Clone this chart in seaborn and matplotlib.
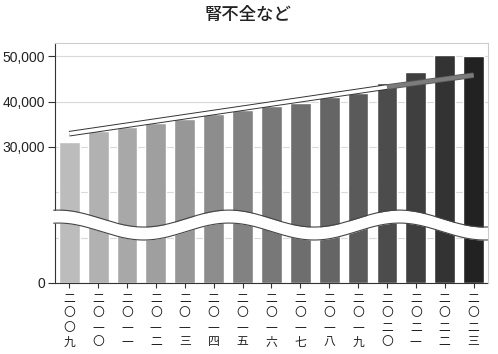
import numpy as np
import pandas as pd
import matplotlib
matplotlib.use("Agg")
import matplotlib.pyplot as plt
import seaborn as sns

# data
years = ['二〇〇九', '二〇一〇', '二〇一一', '二〇一二', '二〇一三', '二〇一四', '二〇一五',
         '二〇一六', '二〇一七', '二〇一八', '二〇一九', '二〇二〇', '二〇二一', '二〇二二', '二〇二三']
values = [31100, 33500, 34300, 35300, 36050, 37200, 38100, 39000,
          39700, 41000, 41900, 44000, 46500, 50200, 50100]
bar_colors = ['#bcbcbc', '#b1b1b1', '#a8a8a8', '#9f9f9f', '#979797', '#8d8d8d', '#828282',
              '#787878', '#6e6e6e', '#656565', '#5a5a5a', '#4c4c4c', '#3f3f3f', '#333333', '#222222']
trend_x = [0, 11, 14]
trend_y = [32900, 43200, 45800]
grid_values = [0, 10000, 20000, 30000, 40000, 50000]
ytick_values = [0, 30000, 40000, 50000]
ytick_labels = ['0', '30,000', '40,000', '50,000']
title = '腎不全など'

CJK = 'Noto Sans CJK JP'


def main():
    sns.set_style('white')
    plt.rcParams['font.family'] = ['Liberation Sans', CJK, 'DejaVu Sans']

    fig = plt.figure(figsize=(4.98, 3.54), dpi=100)
    ax = fig.add_axes([0.110, 0.2006, 0.870, 0.678])

    df = pd.DataFrame({'year': years, 'value': values})
    sns.barplot(df, x='year', y='value', hue='year', palette=bar_colors, legend=False,
                width=0.72, saturation=1, ax=ax, zorder=2)

    for v in grid_values:
        ax.axhline(v, color='#d9d9d9', lw=0.8, zorder=0)

    # trend line: outlined white part, then grey part
    ax.plot(trend_x[:2], trend_y[:2], color='#333333', lw=4.0, solid_capstyle='butt', zorder=4)
    ax.plot(trend_x[:2], trend_y[:2], color='white', lw=2.6, solid_capstyle='butt', zorder=5)
    ax.plot(trend_x[1:], trend_y[1:], color='#5a5a5a', lw=4.0, solid_capstyle='butt', zorder=4)
    ax.plot(trend_x[1:], trend_y[1:], color='#7c7c7c', lw=2.8, solid_capstyle='butt', zorder=5)

    # wavy axis-break band
    xs = np.linspace(-0.54, 14.5, 500)
    upper = 14200 + 1870 * np.cos(2 * np.pi * (xs - 11.43) / 5.9)
    lower = upper - 2860
    ax.fill_between(xs, lower, upper, color='white', lw=0, zorder=6, clip_on=False)
    ax.plot(xs, upper, color='#444444', lw=0.8, zorder=7, clip_on=False)
    ax.plot(xs, lower, color='#444444', lw=0.8, zorder=7, clip_on=False)

    ax.set_xlim(-0.5, 14.5)
    ax.set_ylim(0, 52900)
    ax.set_yticks(ytick_values, ytick_labels)
    ax.set_xticks(range(len(years)))
    ax.set_xticklabels(['\n'.join(y) for y in years], fontfamily=CJK, fontsize=8.5,
                       linespacing=1.15, color='#222222')
    ax.set_xlabel('')
    ax.set_ylabel('')
    ax.tick_params(axis='y', left=True, length=5, width=0.8, color='#333333', pad=2,
                   labelsize=10, labelcolor='#222222')
    ax.tick_params(axis='x', bottom=True, length=3.4, width=0.8, color='#333333', pad=3)

    for s in ['left', 'bottom']:
        ax.spines[s].set_color('#333333')
        ax.spines[s].set_linewidth(0.8)
    for s in ['top', 'right']:
        ax.spines[s].set_color('#cccccc')
        ax.spines[s].set_linewidth(0.8)
    ax.spines['right'].set_zorder(8)

    fig.text(0.497, 0.957, title, ha='center', va='center', fontfamily=CJK,
             fontsize=12.5, fontweight='medium', color='#222222')

    fig.savefig('out.png', dpi=100)
    plt.close(fig)


if __name__ == '__main__':
    main()
